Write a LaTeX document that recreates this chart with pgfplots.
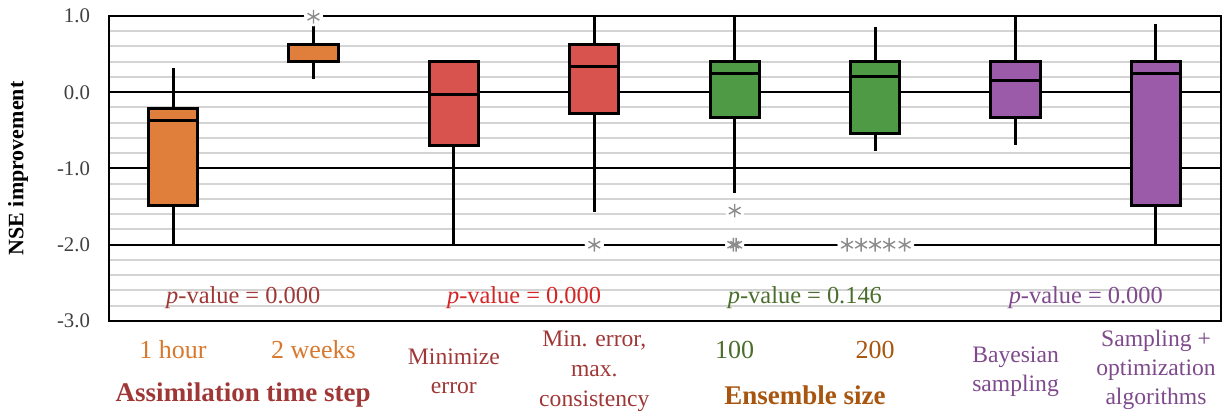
\documentclass[border=0pt]{standalone}
\usepackage{pgfplots}
\pgfplotsset{compat=1.18}
\usepgfplotslibrary{statistics}
\usepackage{fontspec}
\setmainfont{Liberation Serif}

\definecolor{boxorange}{HTML}{E07E3C}
\definecolor{boxred}{HTML}{D9534E}
\definecolor{boxgreen}{HTML}{4F9A45}
\definecolor{boxpurple}{HTML}{9B5BA9}
\definecolor{txtorange}{HTML}{D9782D}
\definecolor{txtdarkred}{HTML}{A03737}
\definecolor{txtred}{HTML}{D42424}
\definecolor{txtgreen}{HTML}{4B6E2C}
\definecolor{txtbrown}{HTML}{A8560F}
\definecolor{txtpurple}{HTML}{7E4A8C}
\definecolor{tickgray}{HTML}{404040}

\begin{document}
\begin{tikzpicture}
\path[use as bounding box] (-54.5pt,-47pt) rectangle (557.5pt,160.5pt);
\begin{axis}[
    at={(0,0)}, anchor=south west,
    scale only axis, width=556pt, height=152.5pt,
    xmin=0.544, xmax=8.463, ymin=-3, ymax=1,
    xtick=\empty,
    ytick={-3,-2,-1,0,1},
    yticklabels={-3.0,-2.0,-1.0,0.0,1.0},
    minor y tick num=4,
    ymajorgrids, yminorgrids,
    major grid style={black, line width=1pt},
    minor grid style={black!17, line width=1pt},
    major tick length=0pt, minor tick length=0pt,
    axis line style={black, line width=1.3pt},
    yticklabel style={font=\fontsize{10.4}{12}\selectfont, text=tickgray, xshift=-6pt},
    clip=false,
    boxplot/draw direction=y,
    boxplot/box extend=0.35,
    boxplot/whisker extend=0,
]
% assimilation time step
\addplot[boxplot prepared={draw position=1, lower whisker=-2.0, lower quartile=-1.49,
    median=-0.377, upper quartile=-0.21, upper whisker=0.314},
    fill=boxorange, draw=black, line width=1.5pt] coordinates {};
\addplot[boxplot prepared={draw position=2, lower whisker=0.17, lower quartile=0.40,
    median=0.63, upper quartile=0.63, upper whisker=0.88},
    fill=boxorange, draw=black, line width=1.5pt] coordinates {};
% calibration objective
\addplot[boxplot prepared={draw position=3, lower whisker=-2.0, lower quartile=-0.705,
    median=-0.027, upper quartile=0.40, upper whisker=0.40},
    fill=boxred, draw=black, line width=1.5pt] coordinates {};
\addplot[boxplot prepared={draw position=4, lower whisker=-1.57, lower quartile=-0.285,
    median=0.335, upper quartile=0.63, upper whisker=1.0},
    fill=boxred, draw=black, line width=1.5pt] coordinates {};
% ensemble size
\addplot[boxplot prepared={draw position=5, lower whisker=-1.325, lower quartile=-0.33,
    median=0.24, upper quartile=0.40, upper whisker=1.0},
    fill=boxgreen, draw=black, line width=1.5pt] coordinates {};
\addplot[boxplot prepared={draw position=6, lower whisker=-0.77, lower quartile=-0.54,
    median=0.213, upper quartile=0.40, upper whisker=0.86},
    fill=boxgreen, draw=black, line width=1.5pt] coordinates {};
% parameter estimation
\addplot[boxplot prepared={draw position=7, lower whisker=-0.69, lower quartile=-0.33,
    median=0.16, upper quartile=0.40, upper whisker=1.0},
    fill=boxpurple, draw=black, line width=1.5pt] coordinates {};
\addplot[boxplot prepared={draw position=8, lower whisker=-2.0, lower quartile=-1.49,
    median=0.24, upper quartile=0.40, upper whisker=0.895},
    fill=boxpurple, draw=black, line width=1.5pt] coordinates {};
% outliers (white patch behind each, as in the original)
\addplot[only marks, mark=*, mark size=4.6pt, white, draw=white]
    coordinates {(2,0.99) (4,-2.0) (5,-1.553) (5,-2.0)
    (5.8,-2.0) (5.9,-2.0) (6.0,-2.0) (6.1,-2.0) (6.21,-2.0)};
\addplot[only marks, mark=asterisk, mark size=3.4pt, draw=black!45, line width=0.7pt]
    coordinates {(2,0.99) (4,-2.0) (5,-1.553) (4.99,-2.0) (5.01,-2.0)
    (5.8,-2.0) (5.9,-2.0) (6.0,-2.0) (6.1,-2.0) (6.21,-2.0)};

% p-values
\node[font=\fontsize{12.2}{14}\selectfont, text=txtdarkred] at (axis cs:1.5,-2.70) {\textit{p}-value = 0.000};
\node[font=\fontsize{12.2}{14}\selectfont, text=txtred] at (axis cs:3.5,-2.70) {\textit{p}-value = 0.000};
\node[font=\fontsize{12.2}{14}\selectfont, text=txtgreen] at (axis cs:5.5,-2.70) {\textit{p}-value = 0.146};
\node[font=\fontsize{12.2}{14}\selectfont, text=txtpurple] at (axis cs:7.5,-2.70) {\textit{p}-value = 0.000};

% category labels
\node[font=\fontsize{13}{14.5}\selectfont, text=txtorange] at (axis cs:1,-3.38) {1 hour};
\node[font=\fontsize{13}{14.5}\selectfont, text=txtorange] at (axis cs:2,-3.38) {2 weeks};
\node[font=\fontsize{11.8}{14.5}\selectfont, text=txtdarkred, align=center] at (axis cs:3,-3.656) {Minimize\\error};
\node[font=\fontsize{11.8}{15}\selectfont, text=txtdarkred, align=center] at (axis cs:4,-3.656) {Min. error,\\max.\\consistency};
\node[font=\fontsize{13}{14.5}\selectfont, text=txtgreen] at (axis cs:5,-3.38) {100};
\node[font=\fontsize{13}{14.5}\selectfont, text=txtbrown] at (axis cs:6,-3.38) {200};
\node[font=\fontsize{11.8}{14.5}\selectfont, text=txtpurple, align=center] at (axis cs:7,-3.67) {Bayesian\\sampling};
\node[font=\fontsize{11.8}{14.5}\selectfont, text=txtpurple, align=center] at (axis cs:8,-3.643) {Sampling +\\optimization\\algorithms};

% group titles
\node[font=\bfseries\fontsize{13.5}{15}\selectfont, text=txtdarkred] at (axis cs:1.5,-3.97) {Assimilation time step};
\node[font=\bfseries\fontsize{13.5}{15}\selectfont, text=txtbrown] at (axis cs:5.5,-3.97) {Ensemble size};

% y label
\node[rotate=90, font=\bfseries\fontsize{11}{13}\selectfont] at (axis cs:-0.104,-1) {NSE improvement};
\end{axis}
\end{tikzpicture}
\end{document}
